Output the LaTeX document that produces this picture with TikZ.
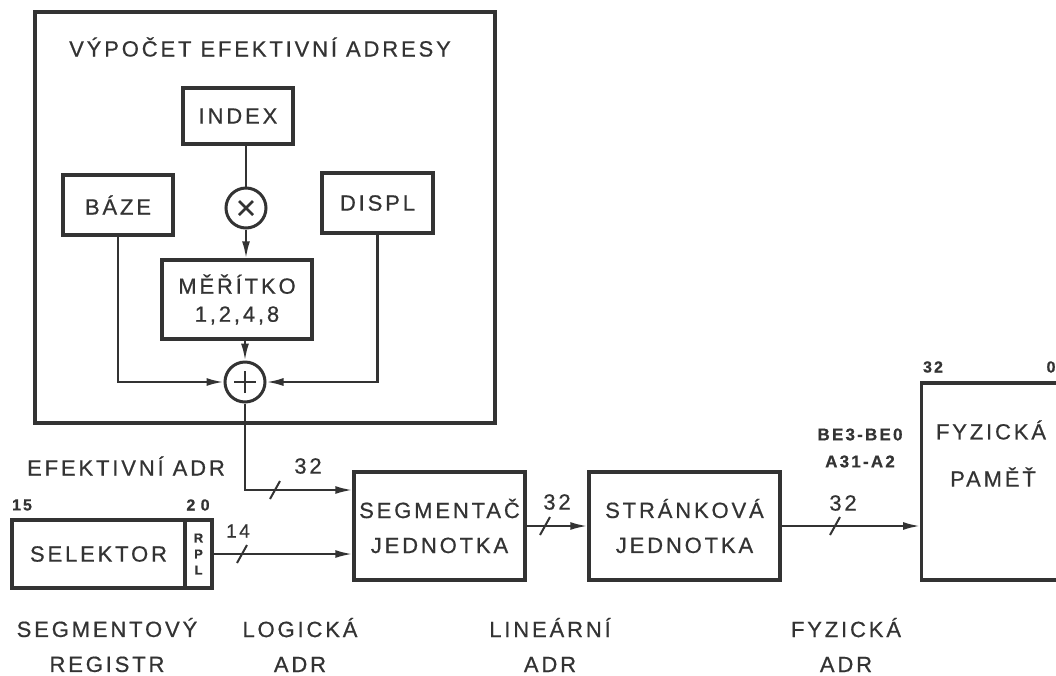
\documentclass[tikz,border=0pt]{standalone}
\usepackage{fontspec}
\setmainfont{Liberation Sans}[LetterSpace=13,FakeBold=0.6]
\usetikzlibrary{arrows.meta}
\definecolor{ink}{HTML}{333333}
\begin{document}
\begin{tikzpicture}[x=1pt,y=-1pt,
  font=\fontsize{22}{35}\selectfont,
  blk/.style={draw=ink,line width=3.4pt,inner sep=0pt,align=center,text=ink},
  outerbox/.style={draw=ink,line width=3.8pt,inner sep=0pt},
  circ/.style={circle,draw=ink,line width=3pt,minimum size=40pt,inner sep=0pt},
  conn/.style={draw=ink,line width=2.2pt},
  arr/.style={conn,-{Latex[length=17pt,width=8pt]}},
  lbl/.style={text=ink,align=center,inner sep=0pt},
  small/.style={lbl,font=\fontsize{16}{18}\selectfont\bfseries},
  bus/.pic={\draw[draw=ink,line width=2pt] (-5,9) -- (5,-9);}
]
\clip (0,0) rectangle (1056,675);
\fill[white] (0,0) rectangle (1056,675);

% outer box
\node[outerbox,minimum width=460pt,minimum height=411pt] (outer) at (265,217.5) {};
\node[lbl] (title) at (260,47) {VÝPOČET EFEKTIVNÍ ADRESY};

\node[blk,minimum width=110pt,minimum height=56pt] (index) at (238,116) {INDEX};
\node[blk,minimum width=110pt,minimum height=60pt] (baze) at (118,205) {BÁZE};
\node[blk,minimum width=111pt,minimum height=60pt] (displ) at (377.5,203) {DISPL};
\node[circ,path picture={\draw[ink,line width=2.6pt]
   ([shift={(-7,-7)}]path picture bounding box.center) -- ([shift={(7,7)}]path picture bounding box.center)
   ([shift={(-7,7)}]path picture bounding box.center) -- ([shift={(7,-7)}]path picture bounding box.center);}]
   (times) at (246,208) {};
\node[blk,minimum width=150pt,minimum height=79pt,font=\fontsize{22}{28}\selectfont] (scale) at (237,299.5) {MĚŘÍTKO\\1,2,4,8};
\node[circ,path picture={\draw[ink,line width=2.6pt]
   ([xshift=-11pt]path picture bounding box.center) -- ([xshift=11pt]path picture bounding box.center)
   ([yshift=-11pt]path picture bounding box.center) -- ([yshift=11pt]path picture bounding box.center);}]
   (plus) at (245,382) {};

\draw[conn] (times.north |- index.south) -- (times.north);
\draw[arr] (times.south) -- (times.south |- scale.north);
\draw[arr] (plus.north |- scale.south) -- (plus.north);
\draw[arr] (baze.south) -- (baze.south |- plus.west) -- (plus.west);
\draw[arr] (displ.south) -- (displ.south |- plus.east) -- (plus.east);

% main chain
\node[blk,minimum width=171pt,minimum height=108pt] (seg) at (439.5,526) {SEGMENTAČ\\JEDNOTKA};
\node[blk,minimum width=191pt,minimum height=108pt] (str) at (684.5,526) {STRÁNKOVÁ\\JEDNOTKA};
\node[blk,minimum width=160pt,minimum height=197pt,anchor=west] (phys) at (920,481.5) {};
\node[lbl] (physa) at (991,430) {FYZICKÁ};
\node[lbl] (physb) at (993,477) {PAMĚŤ};
\node[small] (p32) at (933,367) {32};
\node[small] (p0) at (1051,367) {0};

\node[blk,minimum width=173pt,minimum height=68pt] (sel) at (98.5,554) {SELEKTOR};
\node[blk,minimum width=27pt,minimum height=68pt,font=\fontsize{13}{16}\selectfont\bfseries] (rpl) at (198.5,554) {R\\P\\L};
\node[small] (s15) at (22,505) {15};
\node[small] (s20) at (198,505) {2\,\,0};

\coordinate (ea) at (246,490);
\draw[arr] (plus.south) -- (plus.south |- ea) -- (seg.west |- ea);
\pic at (275,490) {bus};
\node[lbl] (eflab) at (126,466) {EFEKTIVNÍ ADR};
\node[lbl] (n32a) at (308,466) {32};

\draw[arr] (rpl.east) -- (rpl.east -| seg.west);
\pic at (242,554) {bus};
\node[lbl,font=\fontsize{19}{20}\selectfont] (n14) at (238,531) {14};

\draw[arr] (seg.east) -- (str.west);
\pic at (545,526) {bus};
\node[lbl] (n32b) at (557,502) {32};

\draw[arr] (str.east) -- (str.east -| phys.west);
\pic at (835,526) {bus};
\node[lbl] (n32c) at (843,503) {32};
\node[lbl,font=\fontsize{17}{27}\selectfont\bfseries] (be) at (860,448) {BE3-BE0\\A31-A2};

% bottom labels
\node[lbl] (l1) at (107,645) {SEGMENTOVÝ\\REGISTR};
\node[lbl] (l2) at (300,645) {LOGICKÁ\\ADR};
\node[lbl] (l3) at (550,645) {LINEÁRNÍ\\ADR};
\node[lbl] (l4) at (846,645) {FYZICKÁ\\ADR};
\end{tikzpicture}
\end{document}
